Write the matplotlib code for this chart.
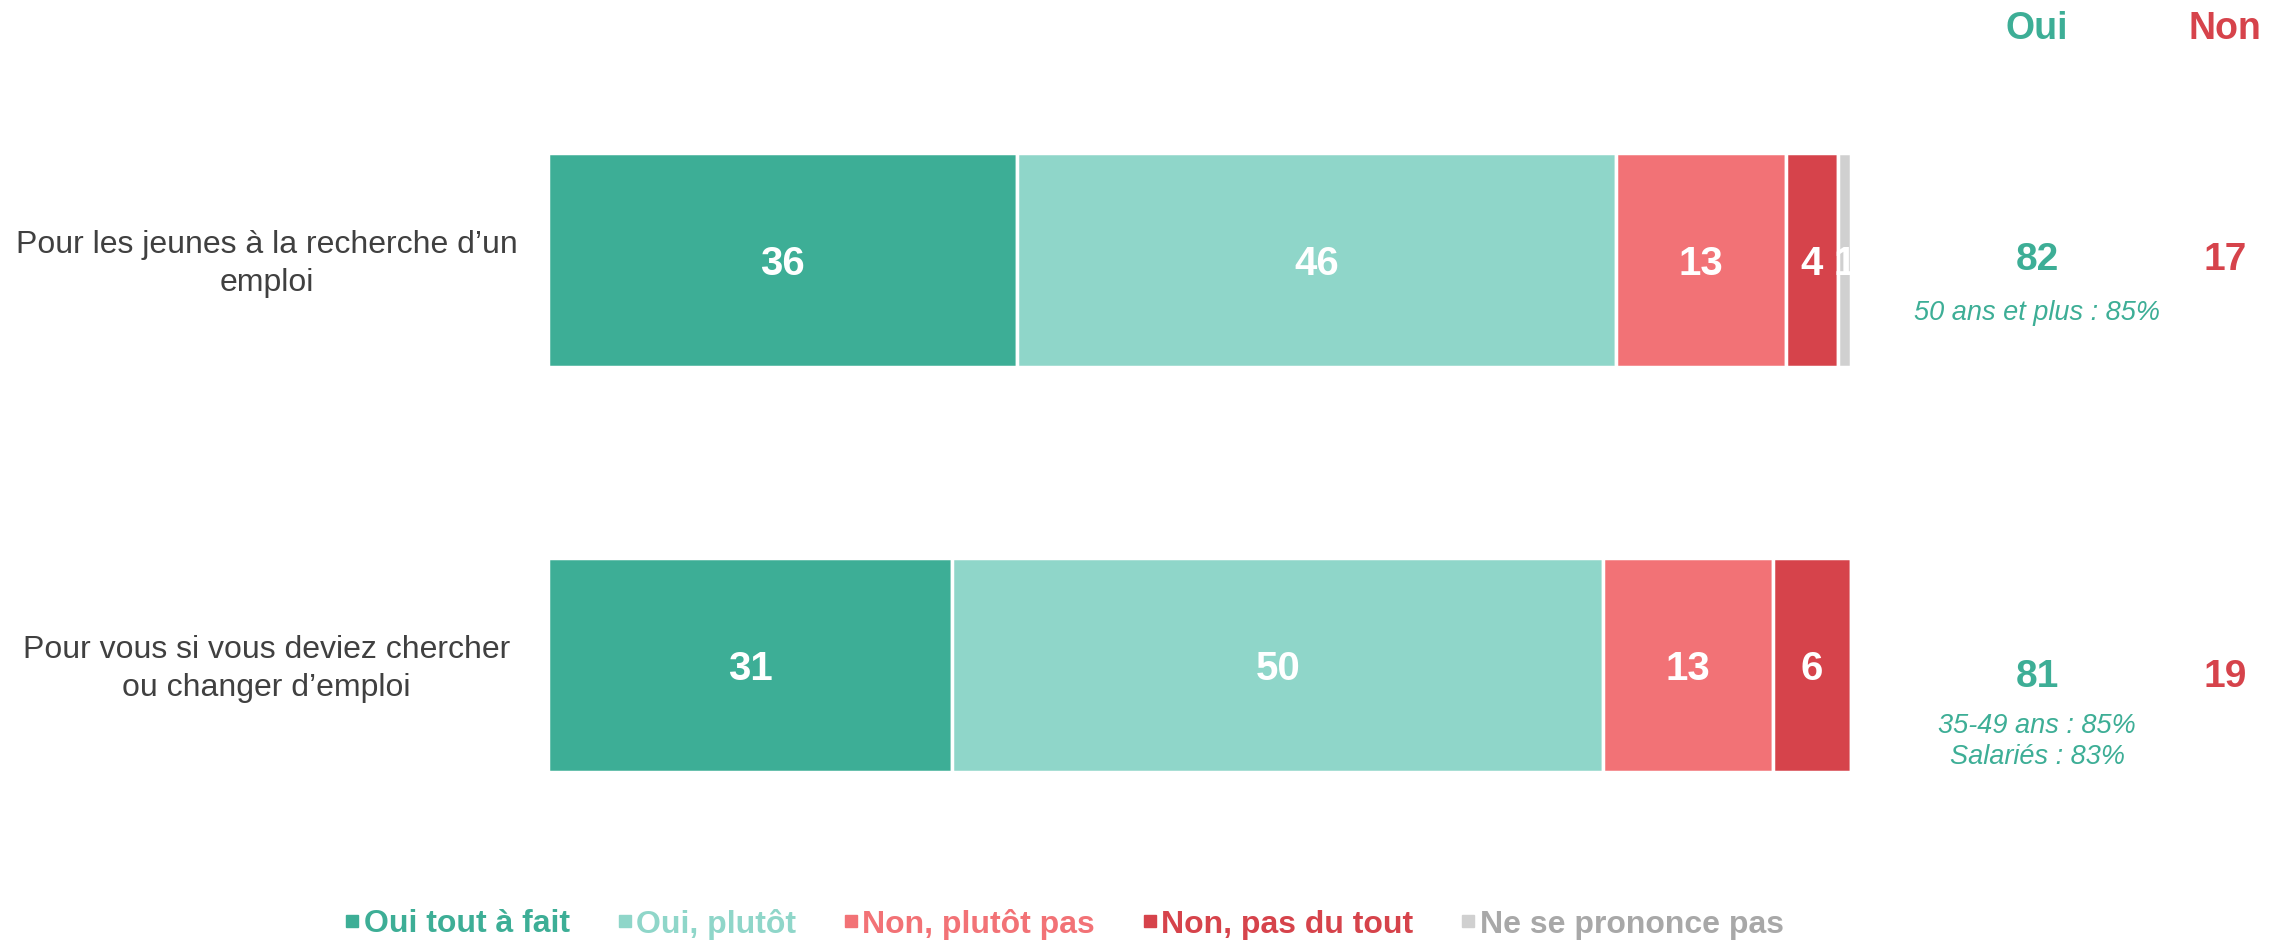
import matplotlib
matplotlib.use("Agg")
import matplotlib.pyplot as plt
from matplotlib.lines import Line2D

plt.rcParams["font.family"] = ["Liberation Sans", "DejaVu Sans"]

CATEGORIES = ["Pour les jeunes à la recherche d’un\nemploi",
              "Pour vous si vous deviez chercher\nou changer d’emploi"]
SERIES = ["Oui tout à fait", "Oui, plutôt", "Non, plutôt pas", "Non, pas du tout", "Ne se prononce pas"]
VALUES = {"Oui tout à fait":    [36, 31],
          "Oui, plutôt":        [46, 50],
          "Non, plutôt pas":    [13, 13],
          "Non, pas du tout":   [4, 6],
          "Ne se prononce pas": [1, 0]}
OUI_TOTAL = [82, 81]
NON_TOTAL = [17, 19]
OUI_NOTES = ["50 ans et plus : 85%", "35-49 ans : 85%\nSalariés : 83%"]

colors = ["#3dae96", "#8fd6c9", "#f27276", "#d6434b", "#d0d0d0"]
text_colors = ["#3dae96", "#8fd6c9", "#f27276", "#d6434b", "#a8a8a8"]
GREEN, RED = "#3dae96", "#d6434b"

W, H = 2285, 942
fig = plt.figure(figsize=(W / 100, H / 100), dpi=100)
# bar area in pixels: x 548..1851, y 153..772 (from top)
ax = fig.add_axes([548 / W, 1 - 772 / H, (1851 - 548) / W, (772 - 153) / H])
h = 214 / 405
ax.set_xlim(0, 100)
ax.set_ylim(1 + h / 2, -h / 2)
ax.axis("off")

ys = list(range(len(CATEGORIES)))
left = [0] * len(CATEGORIES)
for name, col in zip(SERIES, colors):
    vals = VALUES[name]
    ax.barh(ys, vals, left=left, height=h, color=col, edgecolor="white", linewidth=2.5)
    for y, v, l in zip(ys, vals, left):
        if v > 0:
            ax.text(l + v / 2, y + 0.01, str(v), ha="center", va="center", color="white",
                    fontsize=29, fontweight="bold", clip_on=False)
    left = [l + v for l, v in zip(left, vals)]

for y, cat in zip(ys, CATEGORIES):
    ax.text(-21.6, y + 0.01, cat, ha="center", va="center", multialignment="center",
            fontsize=23, color="#404040", linespacing=1.35)

oui_x, non_x = 114.3, 128.7
note_dy = [0.13, 0.19]
num_dy = [0.0, 0.03]
for y, o, n, note, dy, ndy in zip(ys, OUI_TOTAL, NON_TOTAL, OUI_NOTES, note_dy, num_dy):
    ax.text(oui_x, y + ndy, str(o), ha="center", va="center", color=GREEN,
            fontsize=28, fontweight="bold", clip_on=False)
    ax.text(non_x, y + ndy, str(n), ha="center", va="center", color=RED,
            fontsize=28, fontweight="bold", clip_on=False)
    ax.text(oui_x, y + dy, note, ha="center", va="center", color=GREEN,
            fontsize=19.5, fontstyle="italic", clip_on=False, linespacing=1.25)

fig.text(2037 / W, 1 - 29 / H, "Oui", ha="center", va="center", color=GREEN,
         fontsize=27, fontweight="bold")
fig.text(2225 / W, 1 - 29 / H, "Non", ha="center", va="center", color=RED,
         fontsize=27, fontweight="bold")

handles = [Line2D([], [], marker="s", linestyle="none", markersize=9,
                  markerfacecolor=c, markeredgecolor=c) for c in colors]
leg = fig.legend(handles, SERIES, loc="center", bbox_to_anchor=(1064 / W, 1 - 924 / H),
                 ncol=5, frameon=False, handlelength=0.5, handletextpad=0.12,
                 columnspacing=1.45, prop={"size": 23, "weight": "bold"})
for t, c in zip(leg.get_texts(), text_colors):
    t.set_color(c)

fig.savefig("out.png", dpi=100)
